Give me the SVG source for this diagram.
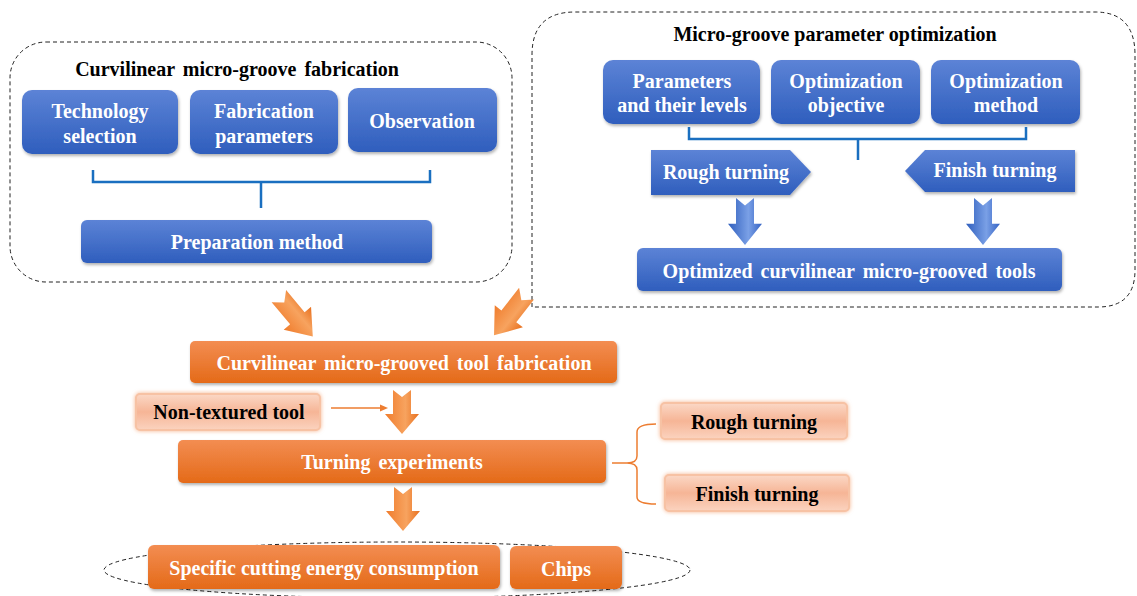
<svg xmlns="http://www.w3.org/2000/svg" width="1137" height="596" viewBox="0 0 1137 596">
<defs>
<linearGradient id="gb" x1="0" y1="0" x2="0" y2="1"><stop offset="0" stop-color="#5c83d6"/><stop offset="1" stop-color="#2f5ebd"/></linearGradient>
<linearGradient id="go" x1="0" y1="0" x2="0" y2="1"><stop offset="0" stop-color="#f38d52"/><stop offset="1" stop-color="#e46a18"/></linearGradient>
<linearGradient id="gs" x1="0" y1="0" x2="0" y2="1"><stop offset="0" stop-color="#fbd8c6"/><stop offset="0.5" stop-color="#f6b596"/><stop offset="1" stop-color="#fbd3bf"/></linearGradient>
<linearGradient id="gao" x1="0" y1="0" x2="1" y2="0"><stop offset="0" stop-color="#f07c2c"/><stop offset="0.6" stop-color="#f7a35f"/><stop offset="1" stop-color="#e8701e"/></linearGradient>
<linearGradient id="gab" x1="0" y1="0" x2="1" y2="0"><stop offset="0" stop-color="#2f5ebd"/><stop offset="0.6" stop-color="#7aa0e6"/><stop offset="1" stop-color="#3563c4"/></linearGradient>
<filter id="sh" x="-10%" y="-20%" width="120%" height="150%"><feDropShadow dx="1" dy="2" stdDeviation="1.5" flood-color="#000" flood-opacity="0.3"/></filter>
<filter id="glow" x="-10%" y="-30%" width="120%" height="160%"><feDropShadow dx="0" dy="0" stdDeviation="2" flood-color="#f4a070" flood-opacity="0.8"/></filter>
<path id="darr" d="M-9,0 L0,7 L9,0 L9,24 L17,24 L0,44 L-17,24 L-9,24 Z"/>
</defs>
<style>
.dash{fill:none;stroke:#222;stroke-width:1;stroke-dasharray:4,3}
.bb{fill:url(#gb);filter:url(#sh)}
.ob{fill:url(#go);filter:url(#sh)}
.sb{fill:url(#gs);stroke:#f7c2a4;stroke-width:2;filter:url(#glow)}
.wt{font-family:"Liberation Serif",serif;font-weight:bold;font-size:20px;fill:#fff;text-anchor:middle}
.bt{font-family:"Liberation Serif",serif;font-weight:bold;font-size:20px;fill:#000;text-anchor:middle}
.tt{font-family:"Liberation Serif",serif;font-weight:bold;font-size:20px;fill:#000;text-anchor:middle}
.ws{word-spacing:3px}
.brb{fill:none;stroke:#1a6fc0;stroke-width:2.5}
.bro{fill:none;stroke:#ed7d31;stroke-width:1.5}
.ao{fill:url(#gao)}
.ab{fill:url(#gab)}
</style>

<g id="group-fabrication">
<rect class="dash" x="10" y="42" width="502" height="240" rx="36"/>
<text class="tt ws" x="237" y="76">Curvilinear micro-groove fabrication</text>
</g>
<g id="node-tech"><rect class="bb" x="22" y="90" width="156" height="64" rx="10"/><text class="wt" x="100" y="118">Technology</text><text class="wt" x="100" y="143">selection</text></g>
<g id="node-fabparams"><rect class="bb" x="190" y="90" width="148" height="64" rx="10"/><text class="wt" x="264" y="118">Fabrication</text><text class="wt" x="264" y="143">parameters</text></g>
<g id="node-obs"><rect class="bb" x="348" y="88" width="149" height="64" rx="10"/><text class="wt" x="422" y="128">Observation</text></g>
<g id="node-prep"><rect class="bb" x="81" y="220" width="351" height="43" rx="6"/><text class="wt" x="257" y="249">Preparation method</text></g>

<g id="group-optimization">
<path class="dash" d="M532,307 L532,55 Q532,12 575,12 L1095,12 Q1135,12 1135,55 L1135,270 Q1135,307 1098,307 Z"/>
<text class="tt" x="835" y="41">Micro-groove parameter optimization</text>
</g>
<g id="node-params"><rect class="bb" x="603" y="60" width="157" height="64" rx="10"/><text class="wt" x="682" y="88">Parameters</text><text class="wt" x="682" y="112">and their levels</text></g>
<g id="node-objective"><rect class="bb" x="771" y="60" width="149" height="64" rx="10"/><text class="wt" x="846" y="88">Optimization</text><text class="wt" x="846" y="112">objective</text></g>
<g id="node-method"><rect class="bb" x="931" y="60" width="149" height="64" rx="10"/><text class="wt" x="1006" y="88">Optimization</text><text class="wt" x="1006" y="112">method</text></g>
<g id="node-rough-b"><polygon class="bb" points="651,150 790,150 811,172 790,195 651,195"/><text class="wt" x="726" y="179">Rough turning</text></g>
<g id="node-finish-b"><polygon class="bb" points="925,150 1075,150 1075,192 925,192 905,171"/><text class="wt" x="995" y="177">Finish turning</text></g>
<g id="node-optimized"><rect class="bb" x="637" y="248" width="425" height="43" rx="6"/><text class="wt ws" x="849" y="278">Optimized curvilinear micro-grooved tools</text></g>

<g id="node-toolfab"><rect class="ob" x="190" y="341" width="427" height="42" rx="5"/><text class="wt ws" x="404" y="370">Curvilinear micro-grooved tool fabrication</text></g>
<g id="node-nontex"><rect class="sb" x="136" y="394" width="184" height="36" rx="4"/><text class="bt" x="229" y="419">Non-textured tool</text></g>
<g id="node-turning"><rect class="ob" x="178" y="440" width="428" height="43" rx="5"/><text class="wt ws" x="392" y="469">Turning experiments</text></g>
<g id="node-rough-o"><rect class="sb" x="661" y="403" width="186" height="36" rx="4"/><text class="bt" x="754" y="429">Rough turning</text></g>
<g id="node-finish-o"><rect class="sb" x="665" y="475" width="184" height="36" rx="4"/><text class="bt" x="757" y="501">Finish turning</text></g>
<g id="group-results"><ellipse class="dash" cx="397" cy="570" rx="293" ry="28"/></g>
<g id="node-energy"><rect class="ob" x="148" y="545" width="352" height="44" rx="6"/><text class="wt" x="324" y="575">Specific cutting energy consumption</text></g>
<g id="node-chips"><rect class="ob" x="510" y="546" width="112" height="43" rx="6"/><text class="wt" x="566" y="576">Chips</text></g>

<g id="connectors">
<path class="brb" d="M93,170 L93,182 L430,182 L430,170 M261,182 L261,208"/>
<path class="brb" d="M689,127 L689,139 L1026,139 L1026,127 M858,139 L858,160"/>
<use href="#darr" class="ab" transform="translate(745,198) scale(1,1.07)"/>
<use href="#darr" class="ab" transform="translate(983,198) scale(1,1.07)"/>
<use href="#darr" class="ao" transform="translate(293,313) rotate(-40) translate(0,-22) scale(1.05,1.2)"/>
<use href="#darr" class="ao" transform="translate(513,311) rotate(38) translate(0,-22) scale(1.05,1.2)"/>
<use href="#darr" class="ao" transform="translate(402,390)"/>
<use href="#darr" class="ao" transform="translate(403,487)"/>
<path class="bro" d="M331,408 L382,408"/>
<polygon points="388,408 380,404.5 380,411.5" fill="#ed7d31"/>
<path class="bro" d="M656,424 Q637,424 637,432 L637,456 Q637,463 627,463 L612,463 M627,463 Q637,463 637,470 L637,497 Q637,504 656,504"/>
</g>
</svg>
